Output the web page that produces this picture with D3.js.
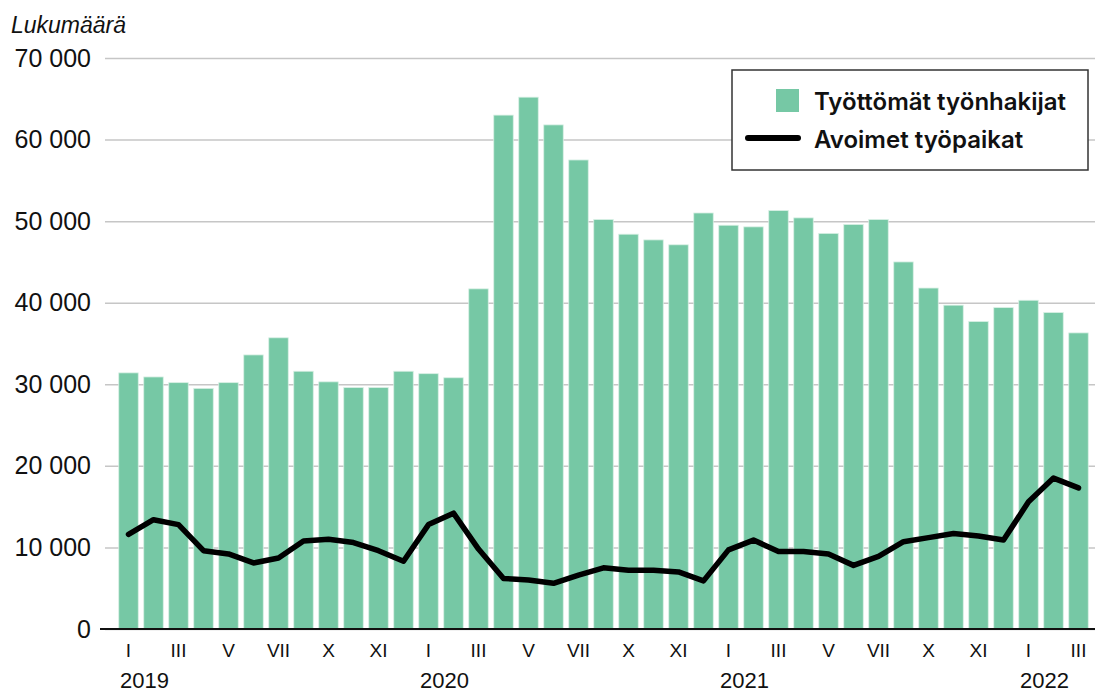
<!DOCTYPE html>
<html>
<head>
<meta charset="utf-8">
<script src="https://cdn.jsdelivr.net/npm/d3@7"></script>
<style>
  body { margin: 0; background: #fff; }
  svg text { font-family: "Liberation Sans", Arial, sans-serif; fill: #111; }
</style>
</head>
<body>
<div id="chart"></div>
<script>
// monthly data, Jan 2019 - Mar 2022
var months = d3.range(39);
var tickLabels = ["I", "III", "V", "VII", "X", "XI"];
var years = ["2019", "2020", "2021", "2022"];

// Työttömät työnhakijat
var jobseekers = [31400, 30900, 30200, 29500, 30200, 33600, 35700, 31600, 30300, 29600, 29600, 31600,
                  31300, 30800, 41700, 63000, 65200, 61800, 57500, 50200, 48400, 47700, 47100, 51000,
                  49500, 49300, 51300, 50400, 48500, 49600, 50200, 45000, 41800, 39700, 37700, 39400,
                  40300, 38800, 36300];
// Avoimet työpaikat
var vacancies = [11600, 13400, 12800, 9600, 9200, 8100, 8700, 10800, 11000, 10600, 9600, 8300,
                 12800, 14200, 9800, 6200, 6000, 5600, 6600, 7500, 7200, 7200, 7000, 5900,
                 9700, 10900, 9500, 9500, 9200, 7800, 8900, 10700, 11200, 11700, 11400, 10900,
                 15600, 18500, 17300];

var yTicks = [0, 10000, 20000, 30000, 40000, 50000, 60000, 70000];

var W = 1095, H = 693;
var svg = d3.select("#chart").append("svg")
    .attr("width", W)
    .attr("height", H);

var x = d3.scaleBand()
    .domain(months)
    .range([116, 1091])
    .paddingInner(0.22)
    .paddingOuter(0.11);

var y = d3.scaleLinear()
    .domain([0, 70000])
    .range([629, 58]);

var fmt = function(d) { return d3.format(",")(d).replace(/,/g, " "); };

// gridlines + y labels
var yAxis = svg.append("g")
    .attr("transform", "translate(105,0)")
    .call(d3.axisLeft(y).tickValues(yTicks).tickSize(-990).tickPadding(14).tickFormat(fmt));
yAxis.select(".domain").remove();
yAxis.selectAll(".tick line").attr("stroke", "#c6c6c6").attr("stroke-width", 1.5);
yAxis.selectAll(".tick text")
    .style("font-size", "25px")
    .attr("fill", "#111");

svg.append("text")
    .attr("x", 11).attr("y", 33)
    .style("font-size", "23px")
    .style("font-style", "italic")
    .text("Lukumäärä");

// bars
svg.append("g")
  .selectAll("rect")
  .data(jobseekers)
  .enter().append("rect")
    .attr("x", function(d, i) { return x(i); })
    .attr("y", function(d) { return y(d); })
    .attr("width", x.bandwidth())
    .attr("height", function(d) { return y(0) - y(d); })
    .attr("fill", "#76c8a5")
    .attr("stroke", "#d9f0e5")
    .attr("stroke-width", 0.8);

// zero line
svg.append("line")
    .attr("x1", 100).attr("x2", W)
    .attr("y1", y(0)).attr("y2", y(0))
    .attr("stroke", "#111").attr("stroke-width", 2);

// vacancies line
var line = d3.line()
    .x(function(d, i) { return x(i) + x.bandwidth() / 2; })
    .y(function(d) { return y(d); });

svg.append("path")
    .datum(vacancies)
    .attr("d", line)
    .attr("fill", "none")
    .attr("stroke", "#000")
    .attr("stroke-width", 5.5)
    .attr("stroke-linejoin", "round")
    .attr("stroke-linecap", "round");

// x tick labels: every second month
var xg = svg.append("g");
months.filter(function(i) { return i % 2 === 0; }).forEach(function(i) {
  var k = (i % 12) / 2;
  xg.append("text")
    .attr("x", x(i) + x.bandwidth() / 2)
    .attr("y", 657)
    .attr("text-anchor", "middle")
    .style("font-size", "19px")
    .text(tickLabels[k]);
});
years.forEach(function(yr, j) {
  xg.append("text")
    .attr("x", x(j * 12) + x.bandwidth() / 2 + 16)
    .attr("y", 688)
    .attr("text-anchor", "middle")
    .style("font-size", "22px")
    .text(yr);
});

// legend
var lg = svg.append("g");
lg.append("rect")
    .attr("x", 732).attr("y", 70)
    .attr("width", 356).attr("height", 100)
    .attr("fill", "#fff")
    .attr("stroke", "#333").attr("stroke-width", 1.5);
lg.append("rect")
    .attr("x", 776).attr("y", 89)
    .attr("width", 23).attr("height", 23)
    .attr("fill", "#76c8a5");
lg.append("line")
    .attr("x1", 748).attr("x2", 798)
    .attr("y1", 138).attr("y2", 138)
    .attr("stroke", "#000").attr("stroke-width", 6)
    .attr("stroke-linecap", "round");
lg.append("text")
    .attr("x", 814).attr("y", 110)
    .style("font-family", "Inter, sans-serif")
    .style("font-weight", 600)
    .style("font-size", "24px")
    .text("Työttömät työnhakijat");
lg.append("text")
    .attr("x", 814).attr("y", 148)
    .style("font-family", "Inter, sans-serif")
    .style("font-weight", 600)
    .style("font-size", "24px")
    .text("Avoimet työpaikat");
</script>
</body>
</html>
